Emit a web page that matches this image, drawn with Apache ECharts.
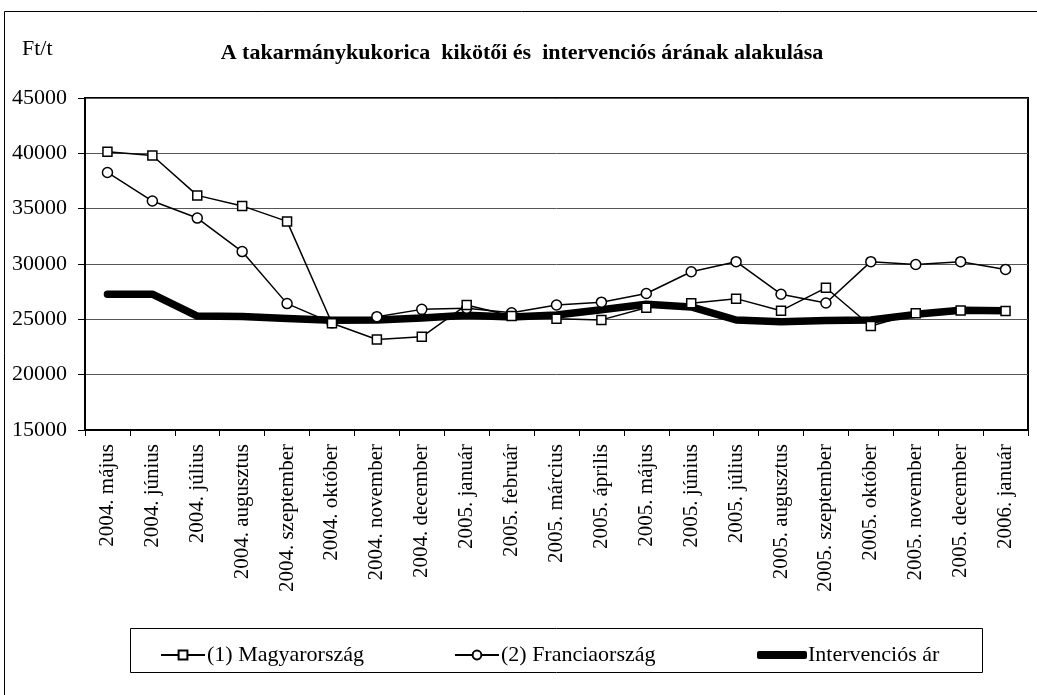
<!DOCTYPE html>
<html>
<head>
<meta charset="utf-8">
<script src="https://cdn.jsdelivr.net/npm/echarts@6/dist/echarts.min.js"></script>
<style>
html,body{margin:0;padding:0;background:#fff;}
#c{width:1037px;height:695px;}
</style>
</head>
<body>
<div id="c"></div>
<script>
const categories = ["2004. május","2004. június","2004. július","2004. augusztus","2004. szeptember","2004. október","2004. november","2004. december","2005. január","2005. február","2005. március","2005. április","2005. május","2005. június","2005. július","2005. augusztus","2005. szeptember","2005. október","2005. november","2005. december","2006. január"];
const magyar = [40150,39800,36200,35250,33850,24650,23180,23420,26300,25300,25050,24950,26050,26450,26870,25780,27850,24400,25550,25800,25750];
const francia = [38270,35690,34150,31120,26420,24680,25240,25900,26000,25600,26300,26550,27330,29300,30210,27270,26480,30210,29960,30210,29510];
const interv = [27270,27270,25300,25250,25080,24920,24940,25120,25360,25200,25390,25870,26360,26120,24940,24780,24900,24940,25450,25820,25780];
const yTicks = {min:15000, max:45000, interval:5000};
const title = "A takarmánykukorica  kikötői és  intervenciós árának alakulása";
const unit = "Ft/t";
const names = ["(1) Magyarország","(2) Franciaország","Intervenciós ár"];

const F = "Liberation Serif, Times New Roman, serif";
const chart = echarts.init(document.getElementById('c'), null, {renderer:'canvas'});
chart.setOption({
  animation:false,
  backgroundColor:'#fff',
  textStyle:{fontFamily:F,color:'#000'},
  title:{text:title,left:517,textAlign:'center',top:37,textStyle:{fontFamily:F,fontSize:22,fontWeight:'bold',color:'#000'}},
  graphic:[
    {type:'rect',shape:{x:4.5,y:11.5,width:1040,height:700},style:{fill:null,stroke:'#000',lineWidth:1},z:-1},
    {type:'text',left:22,top:38,style:{text:unit,fontFamily:F,fontSize:22,fill:'#000'}},
    {type:'rect',shape:{x:130.5,y:628.5,width:852,height:44},style:{fill:null,stroke:'#000',lineWidth:1},z:-1}
  ],
  grid:{left:85,right:9,top:98,bottom:265,show:true,borderColor:'#000',borderWidth:2},
  legend:[
    {data:[names[0],names[1]],left:155,top:639,itemWidth:44,itemHeight:11,itemGap:90,
     textStyle:{fontFamily:F,fontSize:22,color:'#000',padding:[0,0,0,-3]}},
    {data:[names[2]],left:752,top:639,itemWidth:50,itemHeight:8,icon:'roundRect',
     textStyle:{fontFamily:F,fontSize:22,color:'#000',padding:[0,0,0,-4]}}
  ],
  xAxis:{
    type:'category',data:categories,boundaryGap:true,
    axisLine:{lineStyle:{color:'#000',width:2}},
    axisTick:{show:true,inside:false,length:6,lineStyle:{color:'#000',width:1}},
    axisLabel:{rotate:90,fontFamily:F,fontSize:21,color:'#000',margin:14,interval:0}
  },
  yAxis:{
    type:'value',min:yTicks.min,max:yTicks.max,interval:yTicks.interval,
    axisLine:{show:true,lineStyle:{color:'#000',width:2}},
    axisTick:{show:true,length:7,lineStyle:{color:'#000'}},
    axisLabel:{fontFamily:F,fontSize:22,color:'#000',margin:18,formatter:function(v){return String(v);}},
    splitLine:{show:true,lineStyle:{color:'#555',width:1}}
  },
  series:[
    {name:names[2],type:'line',data:interv,symbol:'none',z:1,
     lineStyle:{color:'#000',width:7.5,cap:'round',join:'round'},itemStyle:{color:'#000'}},
    {name:names[0],type:'line',data:magyar,symbol:'rect',symbolSize:9,showAllSymbol:true,z:3,
     lineStyle:{color:'#000',width:1.5},itemStyle:{color:'#fff',borderColor:'#000',borderWidth:1.5}},
    {name:names[1],type:'line',data:francia,symbol:'circle',symbolSize:10,showAllSymbol:true,z:2,
     lineStyle:{color:'#000',width:1.5},itemStyle:{color:'#fff',borderColor:'#000',borderWidth:1.5}}
  ]
});
</script>
</body>
</html>
